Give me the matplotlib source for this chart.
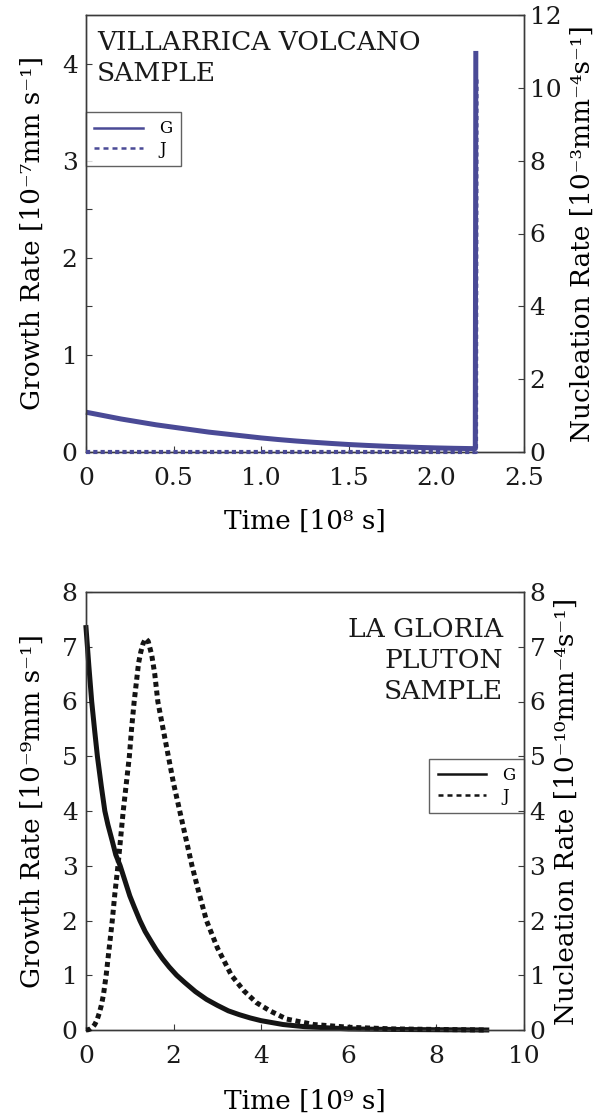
import numpy as np
import matplotlib.pyplot as plt
from matplotlib.lines import Line2D

plt.rcParams['font.family'] = ['DejaVu Serif']

# ---- Villarrica volcano sample (time in 1e8 s) ----
t_vg = [0, 0.1, 0.2, 0.3, 0.4, 0.5, 0.6, 0.7, 0.8, 0.9, 1.0, 1.1, 1.2, 1.3, 1.4,
        1.5, 1.6, 1.7, 1.8, 1.9, 2.0, 2.1, 2.2, 2.222, 2.225]
G_v = [0.41, 0.375, 0.34, 0.31, 0.28, 0.255, 0.23, 0.205, 0.185, 0.165, 0.145,
       0.128, 0.113, 0.1, 0.088, 0.077, 0.068, 0.06, 0.053, 0.047, 0.042, 0.038,
       0.035, 0.035, 4.13]
t_vj = [0, 0.5, 1.0, 1.5, 2.0, 2.226, 2.229]
J_v = [0, 0, 0, 0, 0, 0, 10.3]

# ---- La Gloria pluton sample (time in 1e9 s) ----
t_lg = [0, 0.065, 0.13, 0.2, 0.26, 0.35, 0.43, 0.5, 0.6, 0.68, 0.78, 0.9, 1.0,
        1.1, 1.23, 1.35, 1.5, 1.6, 1.75, 1.9, 2.07, 2.25, 2.5, 2.75, 3.0, 3.25,
        3.5, 3.75, 4.0, 4.5, 5.0, 6.0, 7.0, 8.0, 9.15]
G_l = [7.35, 6.65, 6.0, 5.45, 5.0, 4.45, 4.0, 3.75, 3.45, 3.2, 3.0, 2.7, 2.45,
       2.25, 2.0, 1.8, 1.6, 1.47, 1.3, 1.15, 1.0, 0.87, 0.7, 0.56, 0.45, 0.35,
       0.28, 0.22, 0.17, 0.1, 0.06, 0.02, 0.01, 0.005, 0.0]
t_lj = [0, 0.05, 0.1, 0.15, 0.2, 0.25, 0.3, 0.35, 0.4, 0.46, 0.53, 0.6, 0.66,
        0.73, 0.79, 0.85, 0.92, 0.99, 1.04, 1.1, 1.15, 1.2, 1.25, 1.3, 1.36,
        1.42, 1.5, 1.57, 1.64, 1.76, 1.88, 2.0, 2.14, 2.28, 2.42, 2.58, 2.75,
        3.0, 3.32, 3.6, 3.89, 4.2, 4.58, 5.2, 6.0, 7.0, 8.0, 9.15]
J_l = [0, 0.005, 0.02, 0.05, 0.1, 0.18, 0.3, 0.45, 0.65, 1.0, 1.5, 2.0, 2.5,
       3.0, 3.5, 4.0, 4.5, 5.0, 5.5, 6.0, 6.35, 6.7, 6.9, 7.05, 7.15,
       7.1, 6.85, 6.5, 6.0, 5.5, 5.0, 4.5, 4.0, 3.5, 3.0, 2.5, 2.0,
       1.5, 1.0, 0.72, 0.5, 0.35, 0.2, 0.1, 0.05, 0.02, 0.01, 0.0]

blue = '#4a4a96'
black = '#141414'
spine_c = '#3a3a3a'
dash = (1.0, 0.75)

fig = plt.figure(figsize=(5.93, 11.17), dpi=100)
W, H = 593, 1117


def make_axes(top, bottom):
    ax = fig.add_axes([86 / W, (H - bottom) / H, 438 / W, (bottom - top) / H])
    ax2 = ax.twinx()
    for a in (ax, ax2):
        for s in a.spines.values():
            s.set_color(spine_c)
            s.set_linewidth(1.0)
    ax.tick_params(axis='both', direction='in', length=4, width=0.8,
                   colors=spine_c, labelcolor='#1a1a1a', labelsize=18)
    ax.tick_params(axis='y', right=False, pad=6)
    ax.tick_params(axis='x', top=False, pad=11)
    ax2.tick_params(axis='y', direction='in', length=4, width=0.8,
                    colors=spine_c, labelcolor='#1a1a1a', labelsize=18, pad=4)
    return ax, ax2


def add_legend(a, color, loc, anchor):
    h = [Line2D([], [], color=color, lw=1.8),
         Line2D([], [], color=color, lw=1.8, dashes=(2, 1.6))]
    leg = a.legend(h, ['G', 'J'], loc=loc, bbox_to_anchor=anchor,
                   borderaxespad=0, fancybox=False, fontsize=12, handlelength=2.9,
                   handletextpad=1.0, borderpad=0.5, labelspacing=0.2)
    leg.get_frame().set_edgecolor(spine_c)
    leg.get_frame().set_linewidth(1.0)


# top panel
ax, ax2 = make_axes(15, 452)
ax.plot(t_vg, G_v, color=blue, lw=3.6, solid_capstyle='butt', clip_on=False)
ax2.plot(t_vj, J_v, color=blue, lw=3.0, dashes=dash, clip_on=False, zorder=3)
ax.set_xlim(0, 2.5)
ax.set_ylim(0, 4.5)
ax2.set_ylim(0, 12)
ax.set_xticks([0, 0.5, 1.0, 1.5, 2.0, 2.5])
ax.set_xticklabels(['0', '0.5', '1.0', '1.5', '2.0', '2.5'])
ax.set_yticks([0, 1, 2, 3, 4])
ax.set_yticks([1.5, 2.5], minor=True)
ax.tick_params(which='minor', axis='y', direction='in', length=4, width=0.8,
               colors=spine_c, right=False)
ax2.set_yticks([0, 2, 4, 6, 8, 10, 12])
ax.set_xlabel('Time [10⁸ s]', fontsize=19, labelpad=13)
ax.set_ylabel('Growth Rate [10⁻⁷mm s⁻¹]', fontsize=19, labelpad=12)
ax2.set_ylabel('Nucleation Rate [10⁻³mm⁻⁴s⁻¹]', fontsize=19, labelpad=6)
ax.text(0.025, 0.966, 'VILLARRICA VOLCANO\nSAMPLE', transform=ax.transAxes,
        ha='left', va='top', fontsize=19, linespacing=1.3, color='#1a1a1a')
add_legend(ax, blue, 'upper left', (0, 0.778))

# bottom panel
bx, bx2 = make_axes(592, 1030)
bx.plot(t_lg, G_l, color=black, lw=3.6, clip_on=False)
bx2.plot(t_lj, J_l, color=black, lw=3.6, dashes=dash, clip_on=False, zorder=3)
bx.set_xlim(0, 10)
bx.set_ylim(0, 8)
bx2.set_ylim(0, 8)
bx.set_xticks([0, 2, 4, 6, 8, 10])
bx.set_yticks(range(0, 9))
bx2.set_yticks(range(0, 9))
bx.set_xlabel('Time [10⁹ s]', fontsize=19, labelpad=15)
bx.set_ylabel('Growth Rate [10⁻⁹mm s⁻¹]', fontsize=19, labelpad=12)
bx2.set_ylabel('Nucleation Rate [10⁻¹⁰mm⁻⁴s⁻¹]', fontsize=19, labelpad=6)
bx.text(0.952, 0.944, 'LA GLORIA\nPLUTON\nSAMPLE', transform=bx.transAxes,
        ha='right', va='top', fontsize=19, linespacing=1.3,
        multialignment='right', color='#1a1a1a')
add_legend(bx, black, 'upper right', (1, 0.619))

fig.savefig('out.png', dpi=100)
